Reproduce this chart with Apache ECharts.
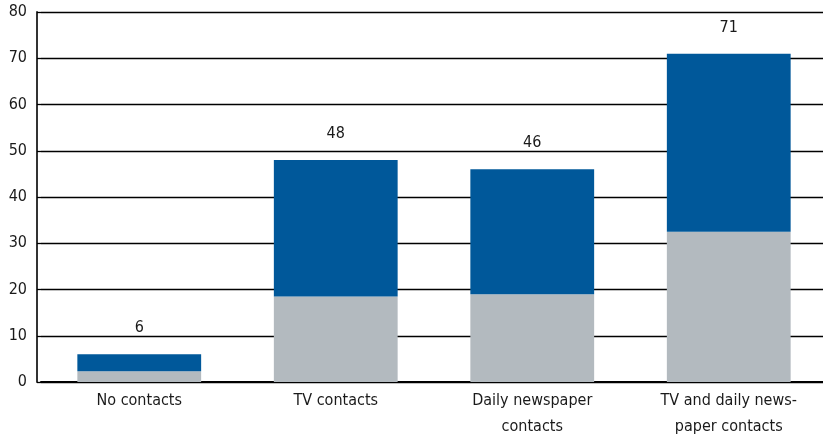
<!DOCTYPE html>
<html>
<head>
<meta charset="utf-8">
<script src="https://cdn.jsdelivr.net/npm/echarts@6/dist/echarts.min.js"></script>
<style>
  html, body { margin: 0; padding: 0; background: #fff; }
  #chart { width: 823px; height: 438px; }
</style>
</head>
<body>
<div id="chart"></div>
<script>
// Contact groups along the x axis
const categories = ['No contacts', 'TV contacts', 'Daily newspaper\ncontacts', 'TV and daily news-\npaper contacts'];
// Lower (grey) segment of each stacked bar
const lowerPart = [2.3, 18.5, 19.0, 32.5];
// Total height of each bar, as printed above it
const totals = [6, 48, 46, 71];
// Upper (blue) segment = total minus lower segment
const upperPart = totals.map((t, i) => +(t - lowerPart[i]).toFixed(2));
// Value axis ticks
const yTicks = [0, 10, 20, 30, 40, 50, 60, 70, 80];

const FONT = '"Liberation Sans Narrow", "DejaVu Sans Condensed", "Liberation Sans", sans-serif';

const chart = echarts.init(document.getElementById('chart'), null, { renderer: 'canvas' });
chart.setOption({
  animation: false,
  backgroundColor: '#ffffff',
  grid: { left: 41, right: -4, top: 12, bottom: 56, outerBoundsMode: 'none', containLabel: false },
  xAxis: {
    type: 'category',
    data: categories,
    axisTick: { show: false },
    axisLine: { show: true, lineStyle: { color: '#000', width: 2 } },
    axisLabel: {
      color: '#1a1a1a',
      fontFamily: FONT,
      fontSize: 16,
      lineHeight: 26,
      margin: 6,
      interval: 0
    }
  },
  yAxis: {
    type: 'value',
    min: yTicks[0],
    max: yTicks[yTicks.length - 1],
    interval: 10,
    offset: 4,
    axisLine: { show: true, lineStyle: { color: '#333', width: 2 } },
    // short inward ticks join the axis line to the grid lines
    axisTick: { show: true, inside: true, length: 4, lineStyle: { color: '#000', width: 1.3 } },
    axisLabel: {
      color: '#1a1a1a',
      fontFamily: FONT,
      fontSize: 16,
      margin: 10
    },
    splitLine: { show: true, lineStyle: { color: '#000', width: 1.3 } }
  },
  series: [
    {
      name: 'lower',
      type: 'bar',
      stack: 'total',
      data: lowerPart,
      barCategoryGap: '37%',
      itemStyle: { color: '#b3babf' }
    },
    {
      name: 'upper',
      type: 'bar',
      stack: 'total',
      data: upperPart,
      barCategoryGap: '37%',
      itemStyle: { color: '#00589a' },
      label: {
        show: true,
        position: 'top',
        distance: 18,
        color: '#1a1a1a',
        fontFamily: FONT,
        fontSize: 16,
        formatter: p => String(totals[p.dataIndex])
      }
    }
  ]
});
</script>
</body>
</html>
